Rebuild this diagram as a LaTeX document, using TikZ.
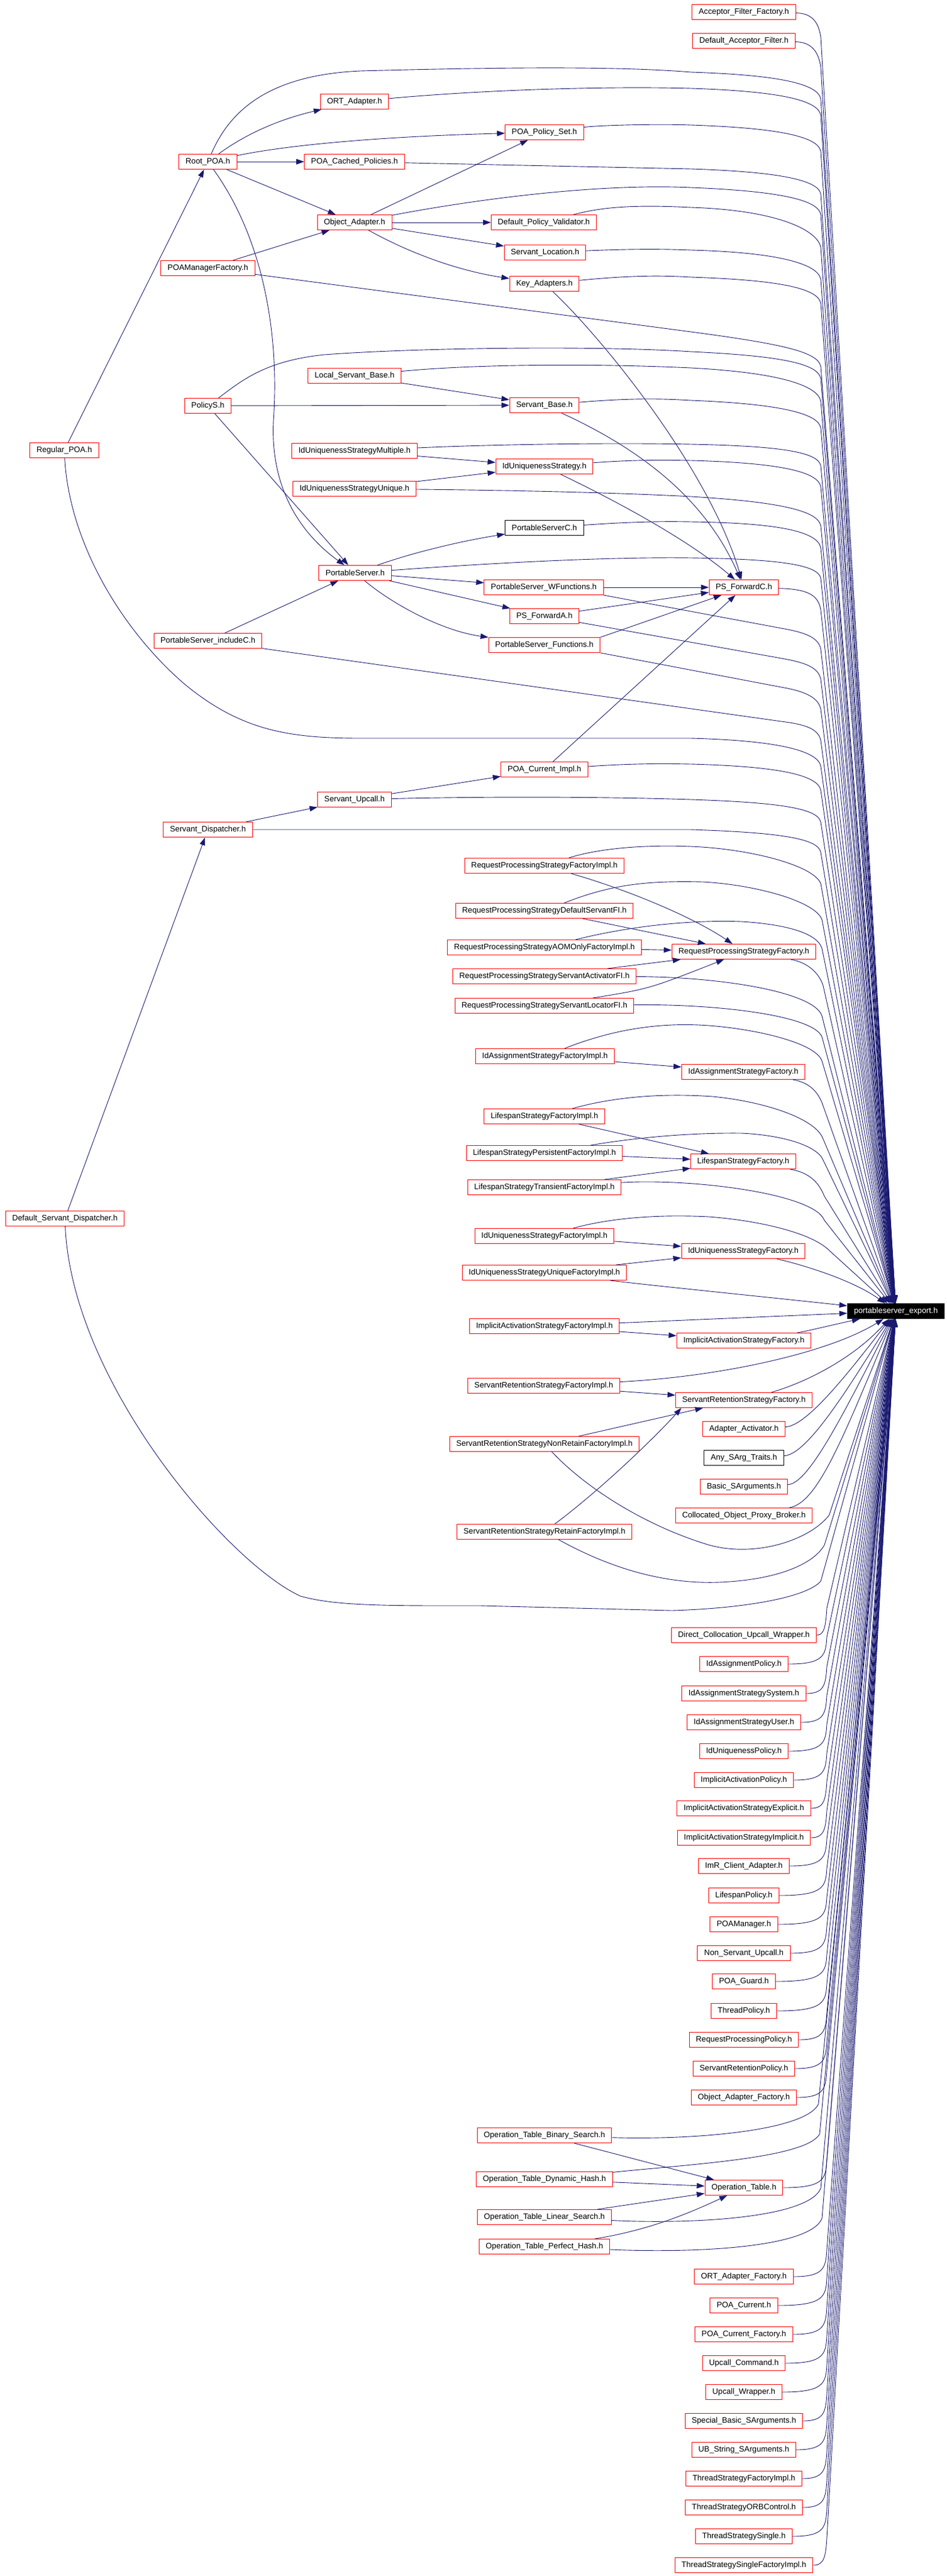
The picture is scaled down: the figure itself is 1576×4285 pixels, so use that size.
\documentclass[tikz,border=0pt]{standalone}
\usepackage{fontspec}
\setmainfont{Liberation Sans}
\usetikzlibrary{arrows.meta}
\definecolor{edgeblue}{HTML}{191970}

\begin{document}
\begin{tikzpicture}[x=1pt,y=-1pt,
    hfile/.style={draw=red,line width=1pt,minimum height=25pt,inner xsep=11pt,inner ysep=0pt,font=\fontsize{13.2}{15}\selectfont},
    nodoc/.style={hfile,draw=black},
    incl/.style={draw=edgeblue,line width=0.9pt,-{Triangle[length=13pt,width=9pt]}}]
\useasboundingbox (0,0) rectangle (1576,4285);

% headers on the left and in the middle
\node[hfile] (regp) at (107,749) {Regular\_POA.h};
\node[hfile] (dsd) at (108,2027) {Default\_Servant\_Dispatcher.h};
\node[hfile] (rpoa) at (346,269) {Root\_POA.h};
\node[hfile] (poamf) at (346,446) {POAManagerFactory.h};
\node[hfile] (pols) at (346,675) {PolicyS.h};
\node[hfile] (psic) at (346,1066) {PortableServer\_includeC.h};
\node[hfile] (sd) at (346,1380) {Servant\_Dispatcher.h};
\node[hfile] (orta) at (590,169) {ORT\_Adapter.h};
\node[hfile] (pcp) at (590,269) {POA\_Cached\_Policies.h};
\node[hfile] (oa) at (590,370) {Object\_Adapter.h};
\node[hfile] (lsb) at (590,625) {Local\_Servant\_Base.h};
\node[hfile] (iusm) at (590,750) {IdUniquenessStrategyMultiple.h};
\node[hfile] (iusu) at (590,813) {IdUniquenessStrategyUnique.h};
\node[hfile] (ps) at (591,953) {PortableServer.h};
\node[hfile] (su) at (590,1330) {Servant\_Upcall.h};
\node[hfile] (pps) at (906,220) {POA\_Policy\_Set.h};
\node[hfile] (dpv) at (905,370) {Default\_Policy\_Validator.h};
\node[hfile] (sloc) at (907,420) {Servant\_Location.h};
\node[hfile] (ka) at (906,472) {Key\_Adapters.h};
\node[hfile] (sb) at (906,674) {Servant\_Base.h};
\node[hfile] (ius) at (906,776) {IdUniquenessStrategy.h};
\node[nodoc] (psc) at (906,878) {PortableServerC.h};
\node[hfile] (pswf) at (905,977) {PortableServer\_WFunctions.h};
\node[hfile] (psfa) at (906,1025) {PS\_ForwardA.h};
\node[hfile] (psf) at (906,1073) {PortableServer\_Functions.h};
\node[hfile] (pci) at (906,1280) {POA\_Current\_Impl.h};
\node[hfile] (rpsfi) at (906,1440) {RequestProcessingStrategyFactoryImpl.h};
\node[hfile] (rpsds) at (906,1515) {RequestProcessingStrategyDefaultServantFI.h};
\node[hfile] (rpsaom) at (906,1576) {RequestProcessingStrategyAOMOnlyFactoryImpl.h};
\node[hfile] (rpssa) at (906,1624) {RequestProcessingStrategyServantActivatorFI.h};
\node[hfile] (rpssl) at (906,1673) {RequestProcessingStrategyServantLocatorFI.h};
\node[hfile] (iasfi) at (907,1757) {IdAssignmentStrategyFactoryImpl.h};
\node[hfile] (lsfi) at (906,1857) {LifespanStrategyFactoryImpl.h};
\node[hfile] (lspf) at (906,1918) {LifespanStrategyPersistentFactoryImpl.h};
\node[hfile] (lstf) at (906,1975) {LifespanStrategyTransientFactoryImpl.h};
\node[hfile] (iusfi) at (906,2056) {IdUniquenessStrategyFactoryImpl.h};
\node[hfile] (iusufi) at (906,2117) {IdUniquenessStrategyUniqueFactoryImpl.h};
\node[hfile] (iafi) at (906,2206) {ImplicitActivationStrategyFactoryImpl.h};
\node[hfile] (srsfi) at (905,2305) {ServantRetentionStrategyFactoryImpl.h};
\node[hfile] (srsnr) at (906,2402) {ServantRetentionStrategyNonRetainFactoryImpl.h};
\node[hfile] (srsr) at (906,2548) {ServantRetentionStrategyRetainFactoryImpl.h};
\node[hfile] (otbs) at (906,3552) {Operation\_Table\_Binary\_Search.h};
\node[hfile] (otdh) at (906,3625) {Operation\_Table\_Dynamic\_Hash.h};
\node[hfile] (otls) at (906,3688) {Operation\_Table\_Linear\_Search.h};
\node[hfile] (otph) at (906,3737) {Operation\_Table\_Perfect\_Hash.h};

% right column
\node[hfile] (aff) at (1238,20) {Acceptor\_Filter\_Factory.h};
\node[hfile] (daf) at (1238,68) {Default\_Acceptor\_Filter.h};
\node[hfile] (psfc) at (1238,977) {PS\_ForwardC.h};
\node[hfile] (rpsf) at (1238,1583) {RequestProcessingStrategyFactory.h};
\node[hfile] (iasf) at (1237,1783) {IdAssignmentStrategyFactory.h};
\node[hfile] (lsf) at (1237,1932) {LifespanStrategyFactory.h};
\node[hfile] (iusf) at (1237,2081) {IdUniquenessStrategyFactory.h};
\node[hfile] (iaf) at (1238,2230) {ImplicitActivationStrategyFactory.h};
\node[hfile] (srsf) at (1238,2329) {ServantRetentionStrategyFactory.h};
\node[hfile] (aa) at (1238,2377) {Adapter\_Activator.h};
\node[nodoc] (ast) at (1238,2425) {Any\_SArg\_Traits.h};
\node[hfile] (bsa) at (1238,2473) {Basic\_SArguments.h};
\node[hfile] (copb) at (1238,2521) {Collocated\_Object\_Proxy\_Broker.h};
\node[hfile] (dcuw) at (1238,2720) {Direct\_Collocation\_Upcall\_Wrapper.h};
\node[hfile] (iap) at (1238,2768) {IdAssignmentPolicy.h};
\node[hfile] (iass) at (1238,2817) {IdAssignmentStrategySystem.h};
\node[hfile] (iasu) at (1238,2865) {IdAssignmentStrategyUser.h};
\node[hfile] (iup) at (1238,2913) {IdUniquenessPolicy.h};
\node[hfile] (iacp) at (1238,2961) {ImplicitActivationPolicy.h};
\node[hfile] (iase) at (1238,3008) {ImplicitActivationStrategyExplicit.h};
\node[hfile] (iasi) at (1238,3057) {ImplicitActivationStrategyImplicit.h};
\node[hfile] (imr) at (1238,3104) {ImR\_Client\_Adapter.h};
\node[hfile] (lsp) at (1238,3153) {LifespanPolicy.h};
\node[hfile] (poam) at (1238,3201) {POAManager.h};
\node[hfile] (nsu) at (1238,3249) {Non\_Servant\_Upcall.h};
\node[hfile] (poag) at (1238,3296) {POA\_Guard.h};
\node[hfile] (tp) at (1238,3345) {ThreadPolicy.h};
\node[hfile] (rpp) at (1238,3393) {RequestProcessingPolicy.h};
\node[hfile] (srp) at (1238,3441) {ServantRetentionPolicy.h};
\node[hfile] (oaf) at (1238,3489) {Object\_Adapter\_Factory.h};
\node[hfile] (opt) at (1238,3639) {Operation\_Table.h};
\node[hfile] (ortf) at (1238,3787) {ORT\_Adapter\_Factory.h};
\node[hfile] (poac) at (1238,3835) {POA\_Current.h};
\node[hfile] (poacf) at (1238,3883) {POA\_Current\_Factory.h};
\node[hfile] (upc) at (1238,3931) {Upcall\_Command.h};
\node[hfile] (upw) at (1238,3979) {Upcall\_Wrapper.h};
\node[hfile] (sbsa) at (1238,4027) {Special\_Basic\_SArguments.h};
\node[hfile] (ubs) at (1238,4075) {UB\_String\_SArguments.h};
\node[hfile] (tsfi) at (1238,4123) {ThreadStrategyFactoryImpl.h};
\node[hfile] (tsoc) at (1238,4171) {ThreadStrategyORBControl.h};
\node[hfile] (tss) at (1238,4219) {ThreadStrategySingle.h};
\node[hfile] (tssfi) at (1238,4267) {ThreadStrategySingleFactoryImpl.h};

\node[hfile,draw=black,fill=black,text=white] (exp) at (1491,2181) {portableserver\_export.h};

% includes between the headers
\draw[incl] (regp) -- (rpoa);
\draw[incl] (rpoa) .. controls (420,215) and (480,195) .. (orta);
\draw[incl] (rpoa) -- (pcp);
\draw[incl] (rpoa) -- (oa);
\draw[incl] (rpoa) .. controls (460,245) and (600,228) .. (pps);
\draw[incl] (rpoa) .. controls (440,400) and (465,560) .. (455,700) .. controls (450,800) and (490,880) .. (ps);
\draw[incl] (oa) -- (pps);
\draw[incl] (oa) -- (dpv);
\draw[incl] (oa) -- (sloc);
\draw[incl] (oa) .. controls (680,420) and (760,450) .. (ka);
\draw[incl] (poamf) -- (oa);
\draw[incl] (pols) -- (ps);
\draw[incl] (pols) -- (sb);
\draw[incl] (lsb) -- (sb);
\draw[incl] (ka) .. controls (1000,560) and (1180,780) .. (psfc);
\draw[incl] (sb) .. controls (1050,740) and (1170,820) .. (psfc);
\draw[incl] (ius) .. controls (1060,850) and (1160,910) .. (psfc);
\draw[incl] (iusm) -- (ius);
\draw[incl] (iusu) -- (ius);
\draw[incl] (ps) .. controls (700,915) and (780,898) .. (psc);
\draw[incl] (ps) -- (pswf);
\draw[incl] (ps) -- (psfa);
\draw[incl] (ps) .. controls (660,1010) and (740,1050) .. (psf);
\draw[incl] (psic) -- (ps);
\draw[incl] (pswf) -- (psfc);
\draw[incl] (psfa) -- (psfc);
\draw[incl] (psf.north east) -- (psfc);
\draw[incl] (pci) -- (psfc);
\draw[incl] (su) -- (pci);
\draw[incl] (sd) -- (su);
\draw[incl] (dsd) -- (sd);
\draw[incl] (rpsfi) .. controls (1060,1485) and (1160,1530) .. (rpsf);
\draw[incl] (rpsds) -- (rpsf);
\draw[incl] (rpsaom) -- (rpsf);
\draw[incl] (rpssa) -- (rpsf);
\draw[incl] (rpssl) .. controls (1080,1645) .. (rpsf);
\draw[incl] (iasfi) -- (iasf);
\draw[incl] (lsfi) -- (lsf);
\draw[incl] (lspf) -- (lsf);
\draw[incl] (lstf) -- (lsf);
\draw[incl] (iusfi) -- (iusf);
\draw[incl] (iusufi) -- (iusf);
\draw[incl] (iafi) -- (iaf);
\draw[incl] (srsfi) -- (srsf);
\draw[incl] (srsnr) -- ([xshift=46pt]srsf.south west);
\draw[incl] (srsr) .. controls (1010,2470) and (1100,2380) .. ([xshift=10pt]srsf.south west);
\draw[incl] (otbs) -- (opt);
\draw[incl] (otdh) -- (opt);
\draw[incl] (otls) -- (opt);
\draw[incl] (otph) .. controls (1080,3710) and (1150,3680) .. (opt);

% into the export header, from above
\draw[incl] (aff) .. controls (1350,22) and (1362,35) .. (1366,62) -- (exp);
\draw[incl] (daf) .. controls (1350,70) and (1362,85) .. (1366,112) -- (exp);
\draw[incl] (rpoa) .. controls (380,190) and (440,125) .. (600,118) .. controls (900,110) and (1050,112) .. (1150,120) .. controls (1300,125) and (1362,140) .. (1366,165) -- (exp);
\draw[incl] (orta) .. controls (800,150) and (1000,143) .. (1150,147) .. controls (1300,152) and (1362,167) .. (1366,192) -- (exp);
\draw[incl] (pps) .. controls (1000,208) and (1100,206) .. (1150,208) .. controls (1300,213) and (1362,228) .. (1366,252) -- (exp);
\draw[incl] (pcp) -- (1150,281) .. controls (1300,286) and (1362,300) .. (1366,323) -- (exp);
\draw[incl] (oa) .. controls (800,330) and (1000,305) .. (1150,312) .. controls (1300,318) and (1362,333) .. (1366,357) -- (exp);
\draw[incl] (dpv) .. controls (1000,345) and (1050,340) .. (1150,345) .. controls (1300,350) and (1362,385) .. (1366,412) -- (exp);
\draw[incl] (sloc) .. controls (1050,414) and (1100,414) .. (1150,416) .. controls (1300,420) and (1362,440) .. (1366,465) -- (exp);
\draw[incl] (ka) .. controls (1050,458) and (1100,458) .. (1150,461) .. controls (1300,466) and (1362,480) .. (1366,505) -- (exp);
\draw[incl] (poamf) -- (1150,552) .. controls (1300,572) and (1362,585) .. (1366,610) -- (exp);
\draw[incl] (pols) .. controls (400,635) and (440,600) .. (540,590) .. controls (700,578) and (1000,575) .. (1150,585) .. controls (1300,592) and (1362,605) .. (1366,630) -- (exp);
\draw[incl] (lsb) .. controls (800,605) and (1000,605) .. (1150,612) .. controls (1300,620) and (1362,642) .. (1366,668) -- (exp);
\draw[incl] (sb) .. controls (1050,662) and (1100,663) .. (1150,666) .. controls (1300,672) and (1362,688) .. (1366,712) -- (exp);
\draw[incl] (iusm) .. controls (800,740) and (1000,736) .. (1150,739) .. controls (1300,742) and (1362,752) .. (1366,775) -- (exp);
\draw[incl] (ius) .. controls (1050,765) and (1100,765) .. (1150,766) .. controls (1300,770) and (1362,785) .. (1366,810) -- (exp);
\draw[incl] (iusu) .. controls (800,815) and (1000,818) .. (1150,826) .. controls (1300,835) and (1362,850) .. (1366,875) -- (exp);
\draw[incl] (psc) .. controls (1050,868) and (1100,867) .. (1150,868) .. controls (1300,870) and (1362,885) .. (1366,912) -- (exp);
\draw[incl] (ps) .. controls (800,938) and (1000,926) .. (1150,928) .. controls (1300,930) and (1362,940) .. (1366,962) -- (exp);
\draw[incl] (psfc) .. controls (1345,980) and (1362,990) .. (1366,1015) -- (exp);
\draw[incl] (pswf.south east) -- (1300,1045) .. controls (1340,1052) and (1362,1060) .. (1366,1080) -- (exp);
\draw[incl] (psfa) -- (1300,1095) .. controls (1340,1102) and (1362,1110) .. (1366,1130) -- (exp);
\draw[incl] (psf.south east) -- (1300,1143) .. controls (1340,1150) and (1362,1160) .. (1366,1180) -- (exp);
\draw[incl] (psic) -- (1300,1200) .. controls (1340,1205) and (1362,1212) .. (1366,1232) -- (exp);
\draw[incl] (regp) .. controls (115,900) and (200,1045) .. (306,1137) .. controls (400,1215) and (480,1228) .. (600,1228) -- (1150,1228) .. controls (1300,1232) and (1362,1250) .. (1366,1275) -- (exp);
\draw[incl] (pci) .. controls (1050,1270) and (1100,1270) .. (1150,1271) .. controls (1300,1275) and (1362,1290) .. (1366,1315) -- (exp);
\draw[incl] (su) .. controls (800,1325) and (1000,1325) .. (1150,1330) .. controls (1300,1335) and (1362,1345) .. (1366,1368) -- (exp);
\draw[incl] (sd) -- (1150,1380) .. controls (1300,1385) and (1362,1395) .. (1366,1418) -- (exp);
\draw[incl] (rpsfi) .. controls (1000,1410) and (1080,1405) .. (1150,1408) .. controls (1250,1412) and (1355,1440) .. (1366,1470) -- (exp);
\draw[incl] (rpsds) .. controls (1020,1470) and (1080,1465) .. (1170,1467) .. controls (1260,1472) and (1358,1500) .. (1368,1530) -- (exp);
\draw[incl] (rpsaom) .. controls (1050,1540) and (1150,1530) .. (1234,1533) .. controls (1300,1537) and (1360,1550) .. (1368,1578) -- (exp);
\draw[incl] (rpssa) .. controls (1200,1625) and (1355,1650) .. (1368,1690) -- (exp);
\draw[incl] (rpssl) .. controls (1200,1670) and (1355,1690) .. (1368,1725) -- (exp);
\draw[incl] (rpsf) .. controls (1340,1600) and (1362,1615) .. (1370,1640) -- (exp);
\draw[incl] (iasfi) .. controls (1020,1712) and (1100,1700) .. (1180,1706) .. controls (1260,1712) and (1358,1735) .. (1368,1765) -- (exp);
\draw[incl] (iasf) .. controls (1345,1800) and (1362,1815) .. (1370,1840) -- (exp);
\draw[incl] (lsfi) .. controls (1020,1825) and (1100,1818) .. (1186,1824) .. controls (1270,1832) and (1358,1860) .. (1370,1895) -- (exp);
\draw[incl] (lspf) .. controls (1060,1892) and (1150,1884) .. (1234,1885) .. controls (1300,1888) and (1360,1905) .. (1370,1930) -- (exp);
\draw[incl] (lstf) .. controls (1150,1960) and (1355,1985) .. (1372,2030) -- (exp);
\draw[incl] (lsf) .. controls (1345,1950) and (1362,1965) .. (1372,1990) -- (exp);
\draw[incl] (iusfi) .. controls (1020,2025) and (1100,2020) .. (1180,2024) .. controls (1260,2030) and (1350,2050) .. (1380,2080) -- (exp);
\draw[incl] (iusf) .. controls (1340,2105) and (1420,2130) .. (exp);
\draw[incl] (iusufi) .. controls (1100,2140) and (1300,2160) .. (exp);
\draw[incl] (iafi) -- (exp);

% into the export header, from below
\draw[incl] (iaf) .. controls (1340,2215) and (1380,2205) .. (exp);
\draw[incl] (srsfi) .. controls (1200,2290) and (1380,2250) .. (exp);
\draw[incl] (srsf) .. controls (1340,2300) and (1420,2260) .. (exp);
\draw[incl] (aa) .. controls (1340,2372) and (1400,2300) .. (exp);
\draw[incl] (ast) .. controls (1340,2420) and (1400,2330) .. (exp);
\draw[incl] (bsa) .. controls (1345,2468) and (1400,2360) .. (exp);
\draw[incl] (copb) .. controls (1360,2500) and (1400,2400) .. (exp);
\draw[incl] (srsnr) .. controls (980,2480) and (1080,2540) .. (1180,2570) .. controls (1260,2592) and (1350,2560) .. (1380,2520) -- (exp);
\draw[incl] (srsr) .. controls (1000,2600) and (1100,2640) .. (1214,2631) .. controls (1300,2625) and (1355,2600) .. (1372,2570) -- (exp);
\draw[incl] (dsd) .. controls (120,2300) and (380,2600) .. (500,2655) .. controls (560,2672) and (650,2671) .. (800,2671) -- (1118,2679) .. controls (1250,2675) and (1345,2655) .. (1366,2630) -- (exp);
\draw[incl] (dcuw) .. controls (1372,2720) and (1374,2705) .. (1376,2675) -- (exp);
\draw[incl] (iap) .. controls (1372,2768) and (1374,2753) .. (1376,2723) -- (exp);
\draw[incl] (iass) .. controls (1372,2817) and (1374,2802) .. (1376,2772) -- (exp);
\draw[incl] (iasu) .. controls (1372,2865) and (1374,2850) .. (1376,2820) -- (exp);
\draw[incl] (iup) .. controls (1372,2913) and (1374,2898) .. (1376,2868) -- (exp);
\draw[incl] (iacp) .. controls (1372,2961) and (1374,2946) .. (1376,2916) -- (exp);
\draw[incl] (iase) .. controls (1372,3008) and (1374,2993) .. (1376,2963) -- (exp);
\draw[incl] (iasi) .. controls (1372,3057) and (1374,3042) .. (1376,3012) -- (exp);
\draw[incl] (imr) .. controls (1372,3104) and (1374,3089) .. (1376,3059) -- (exp);
\draw[incl] (lsp) .. controls (1372,3153) and (1374,3138) .. (1376,3108) -- (exp);
\draw[incl] (poam) .. controls (1372,3201) and (1374,3186) .. (1376,3156) -- (exp);
\draw[incl] (nsu) .. controls (1372,3249) and (1374,3234) .. (1376,3204) -- (exp);
\draw[incl] (poag) .. controls (1372,3296) and (1374,3281) .. (1376,3251) -- (exp);
\draw[incl] (tp) .. controls (1372,3345) and (1374,3330) .. (1376,3300) -- (exp);
\draw[incl] (rpp) .. controls (1372,3393) and (1374,3378) .. (1376,3348) -- (exp);
\draw[incl] (srp) .. controls (1372,3441) and (1374,3426) .. (1376,3396) -- (exp);
\draw[incl] (oaf) .. controls (1372,3489) and (1374,3474) .. (1376,3444) -- (exp);
\draw[incl] (otbs) .. controls (1150,3560) and (1340,3545) .. (1362,3500) -- (exp);
\draw[incl] (otdh) .. controls (1150,3600) and (1340,3590) .. (1364,3550) -- (exp);
\draw[incl] (opt) .. controls (1372,3639) and (1374,3624) .. (1376,3594) -- (exp);
\draw[incl] (otls) .. controls (1150,3700) and (1345,3690) .. (1366,3640) -- (exp);
\draw[incl] (otph) .. controls (1150,3748) and (1348,3740) .. (1368,3690) -- (exp);
\draw[incl] (ortf) .. controls (1372,3787) and (1374,3772) .. (1376,3742) -- (exp);
\draw[incl] (poac) .. controls (1372,3835) and (1374,3820) .. (1376,3790) -- (exp);
\draw[incl] (poacf) .. controls (1372,3883) and (1374,3868) .. (1376,3838) -- (exp);
\draw[incl] (upc) .. controls (1372,3931) and (1374,3916) .. (1376,3886) -- (exp);
\draw[incl] (upw) .. controls (1372,3979) and (1374,3964) .. (1376,3934) -- (exp);
\draw[incl] (sbsa) .. controls (1372,4027) and (1374,4012) .. (1376,3982) -- (exp);
\draw[incl] (ubs) .. controls (1372,4075) and (1374,4060) .. (1376,4030) -- (exp);
\draw[incl] (tsfi) .. controls (1372,4123) and (1374,4108) .. (1376,4078) -- (exp);
\draw[incl] (tsoc) .. controls (1372,4171) and (1374,4156) .. (1376,4126) -- (exp);
\draw[incl] (tss) .. controls (1372,4219) and (1374,4204) .. (1376,4174) -- (exp);
\draw[incl] (tssfi) .. controls (1372,4267) and (1374,4252) .. (1376,4222) -- (exp);
\end{tikzpicture}
\end{document}
